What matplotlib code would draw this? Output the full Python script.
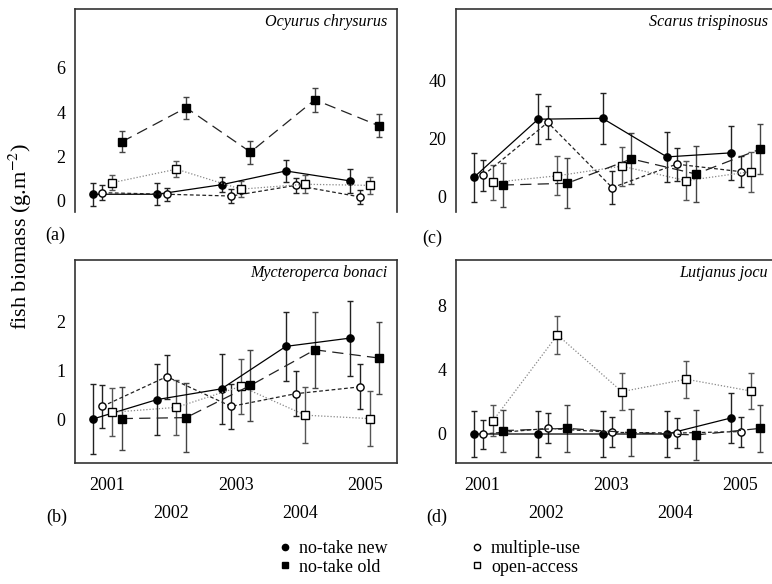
import matplotlib.pyplot as plt
import matplotlib.transforms as mtransforms
from matplotlib.lines import Line2D

plt.rcParams['font.family'] = 'serif'
plt.rcParams['font.serif'] = ['Liberation Serif', 'DejaVu Serif']
plt.rcParams['mathtext.fontset'] = 'stix'

years = [2001, 2002, 2003, 2004, 2005]
series = ['no-take new', 'multiple-use', 'open-access', 'no-take old']

# (a) Ocyurus chrysurus
oc_vals = {
    'no-take new': [0.30, 0.30, 0.73, 1.35, 0.90],
    'multiple-use': [0.37, 0.30, 0.22, 0.70, 0.18],
    'open-access': [0.82, 1.43, 0.53, 0.75, 0.70],
    'no-take old': [2.66, 4.20, 2.20, 4.56, 3.38],
}
oc_errs = {
    'no-take new': [0.52, 0.50, 0.35, 0.50, 0.55],
    'multiple-use': [0.33, 0.30, 0.30, 0.35, 0.33],
    'open-access': [0.35, 0.37, 0.35, 0.40, 0.38],
    'no-take old': [0.47, 0.50, 0.52, 0.55, 0.52],
}

# (c) Scarus trispinosus
st_vals = {
    'no-take new': [6.4, 26.5, 26.8, 13.5, 14.9],
    'multiple-use': [7.2, 25.4, 2.9, 11.0, 8.4],
    'open-access': [4.7, 7.0, 10.3, 5.3, 8.4],
    'no-take old': [3.8, 4.4, 12.8, 7.6, 16.2],
}
st_errs = {
    'no-take new': [8.5, 8.6, 8.7, 8.5, 9.3],
    'multiple-use': [5.3, 5.6, 5.6, 5.7, 5.4],
    'open-access': [5.9, 6.7, 6.7, 6.8, 6.9],
    'no-take old': [7.7, 8.6, 8.8, 9.5, 8.7],
}

# (b) Mycteroperca bonaci
mb_vals = {
    'no-take new': [0.00, 0.40, 0.62, 1.49, 1.66],
    'multiple-use': [0.26, 0.87, 0.26, 0.52, 0.66],
    'open-access': [0.14, 0.24, 0.67, 0.08, 0.01],
    'no-take old': [0.01, 0.03, 0.69, 1.42, 1.25],
}
mb_errs = {
    'no-take new': [0.71, 0.72, 0.72, 0.71, 0.77],
    'multiple-use': [0.44, 0.45, 0.46, 0.46, 0.46],
    'open-access': [0.49, 0.56, 0.57, 0.57, 0.56],
    'no-take old': [0.64, 0.71, 0.73, 0.78, 0.73],
}

# (d) Lutjanus jocu
lj_vals = {
    'no-take new': [0.0, 0.0, 0.0, 0.0, 1.0],
    'multiple-use': [0.0, 0.35, 0.10, 0.06, 0.15],
    'open-access': [0.83, 6.15, 2.63, 3.40, 2.67],
    'no-take old': [0.21, 0.35, 0.08, -0.06, 0.35],
}
lj_errs = {
    'no-take new': [1.43, 1.43, 1.43, 1.43, 1.53],
    'multiple-use': [0.90, 0.93, 0.93, 0.94, 0.93],
    'open-access': [0.96, 1.16, 1.14, 1.14, 1.14],
    'no-take old': [1.30, 1.45, 1.45, 1.57, 1.47],
}

styles = {
    'no-take new': dict(marker='o', mfc='black', ls='-', color='black', ecolor='#222222', ms=5.2, off=-0.225),
    'multiple-use': dict(marker='o', mfc='white', ls=(0, (3, 2)), color='#222222', ecolor='#222222', ms=5.2, off=-0.075),
    'open-access': dict(marker='s', mfc='white', ls=(0, (1, 1.5)), color='#888888', ecolor='#555555', ms=5.5, off=0.075),
    'no-take old': dict(marker='s', mfc='black', ls=(0, (9, 5)), color='#222222', ecolor='#444444', ms=5.5, off=0.225),
}

W, H = 772, 584
fig = plt.figure(figsize=(W / 100, H / 100), dpi=100)

panels = [
    ('Ocyurus chrysurus', oc_vals, oc_errs, (75, 212), (-0.5, 8.65), [0, 2, 4, 6], False, 0),
    ('Scarus trispinosus', st_vals, st_errs, (456, 212), (-5.5, 64.5), [0, 20, 40], False, 0),
    ('Mycteroperca bonaci', mb_vals, mb_errs, (75, 463), (-0.9, 3.26), [0, 1, 2], True, 0),
    ('Lutjanus jocu', lj_vals, lj_errs, (456, 463), (-1.8, 10.8), [0, 4, 8], True, -6),
]

for name, vals, errs, (left, bottom), ylim, yticks, box, xshift in panels:
    ax = fig.add_axes([left / W, 1 - bottom / H, 322 / W, 203 / H])
    for s in series:
        st = styles[s]
        x = [yr + st['off'] for yr in years]
        ax.errorbar(x, vals[s], yerr=errs[s], marker=st['marker'], ms=st['ms'],
                    mfc=st['mfc'], mec='black', mew=1, ls=st['ls'], lw=0.9,
                    color=st['color'], ecolor=st['ecolor'], elinewidth=1,
                    capsize=2.5, capthick=1, zorder=3)
    ax.set_xlim(2000.5, 2005.5)
    ax.set_ylim(*ylim)
    ax.set_yticks(yticks)
    ax.tick_params(axis='y', length=0, pad=7, labelsize=13)
    for sp in ax.spines.values():
        sp.set_color('#333333')
        sp.set_linewidth(1.2)
    if box:
        ax.set_xticks([2001, 2003, 2005])
        ax.set_xticks([2002, 2004], minor=True)
        ax.set_xticklabels(['2001', '2003', '2005'])
        ax.set_xticklabels(['2002', '2004'], minor=True)
        ax.tick_params(axis='x', which='major', length=0, pad=10, labelsize=13)
        ax.tick_params(axis='x', which='minor', length=0, pad=30, labelsize=13)
        if xshift:
            shift = mtransforms.ScaledTranslation(xshift / 100, 0, fig.dpi_scale_trans)
            for lab in ax.get_xticklabels(which='both'):
                lab.set_transform(lab.get_transform() + shift)
    else:
        ax.set_xticks([])
        ax.spines['bottom'].set_visible(False)
    ax.text(0.969, 0.936, name, transform=ax.transAxes, ha='right', va='center',
            style='italic', fontsize=11.6)

fig.text(55 / W, 1 - 235 / H, '(a)', ha='center', va='center', fontsize=13)
fig.text(432 / W, 1 - 238 / H, '(c)', ha='center', va='center', fontsize=13)
fig.text(57 / W, 1 - 517 / H, '(b)', ha='center', va='center', fontsize=13)
fig.text(437 / W, 1 - 517 / H, '(d)', ha='center', va='center', fontsize=13)

fig.text(20 / W, 1 - 236 / H, r'fish biomass (g.m$^{-2}$)', rotation=90,
         ha='center', va='center', fontsize=16)

order = ['no-take new', 'no-take old', 'multiple-use', 'open-access']
handles = [Line2D([], [], marker=styles[s]['marker'], mfc=styles[s]['mfc'], mec='black',
                  ms=4.5, mew=1, ls='none') for s in order]
fig.legend(handles, order, loc='upper left', bbox_to_anchor=(279.6 / W, 1 - 540 / H),
           ncol=2, frameon=False, fontsize=13, handlelength=0.6, handletextpad=0.5,
           columnspacing=4.6, labelspacing=0.1, borderpad=0, borderaxespad=0)

fig.savefig('out.png', dpi=100)
